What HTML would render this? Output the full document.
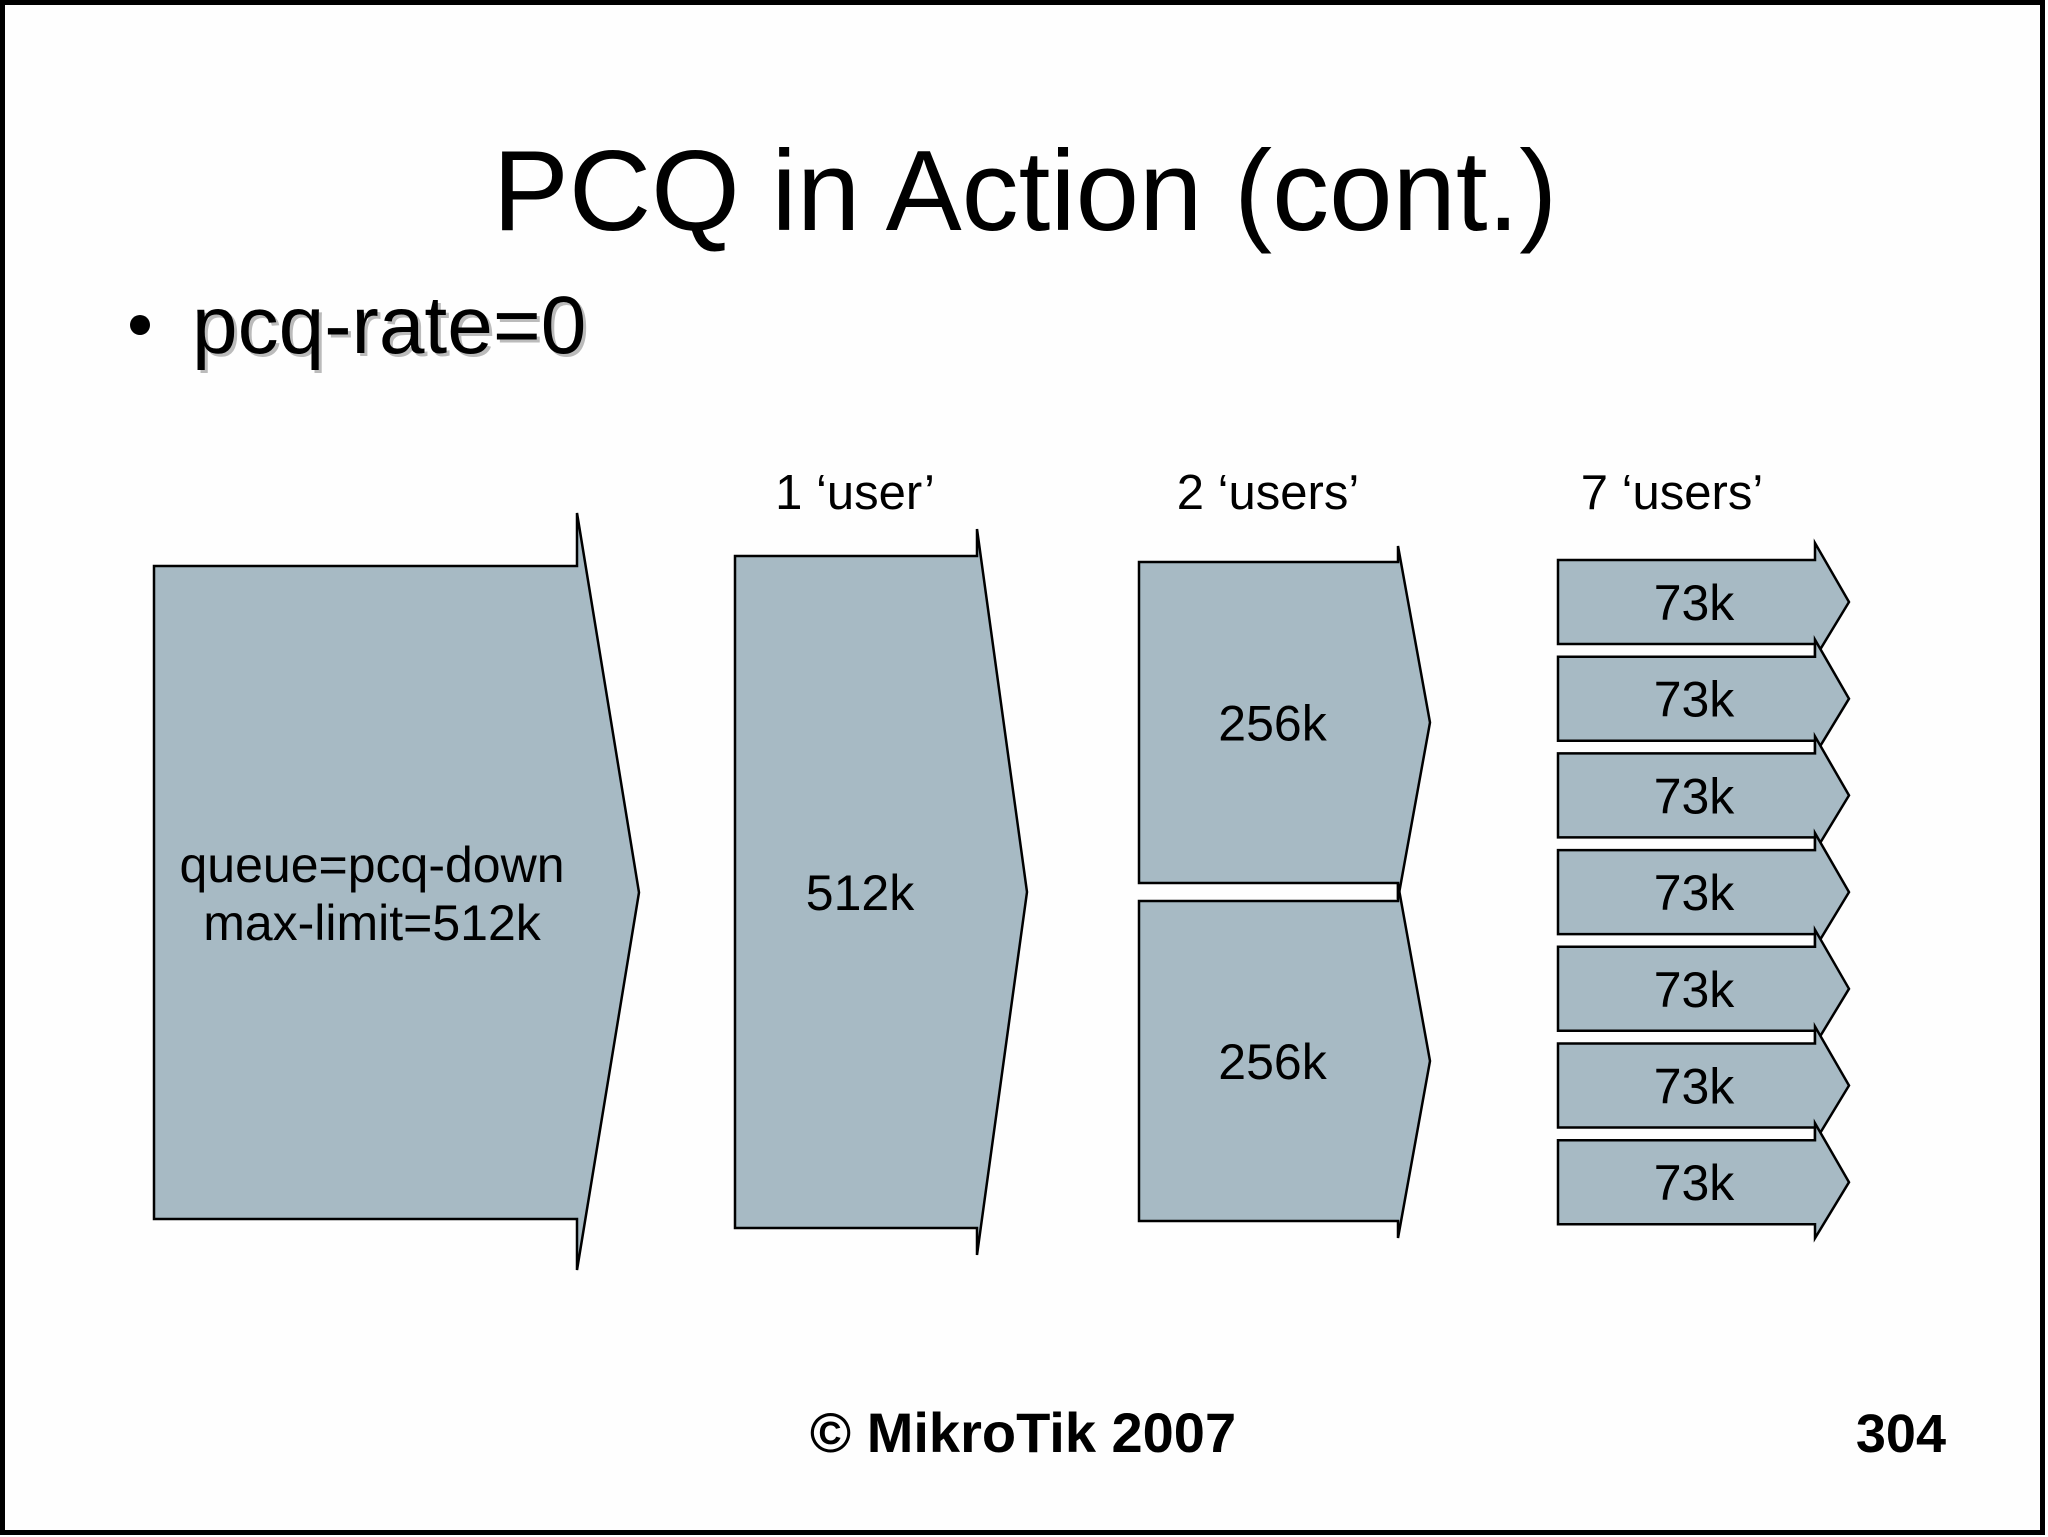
<!DOCTYPE html>
<html><head><meta charset="utf-8"><style>
html,body{margin:0;padding:0;background:#fff}
svg{display:block}
text{font-family:"Liberation Sans",Arial,sans-serif;fill:#000}
</style></head><body>
<svg id="slide" width="2048" height="1537" viewBox="0 0 2048 1537" xmlns="http://www.w3.org/2000/svg">
<rect x="2.5" y="2.5" width="2040" height="1530" fill="#fefefe" stroke="#000" stroke-width="5"/>
<text x="1025" y="230" font-size="114" text-anchor="middle">PCQ in Action (cont.)</text>
<circle cx="140" cy="325" r="10" fill="#000"/>
<text x="195" y="356" font-size="82" style="fill:#bbb">pcq-rate=0</text>
<text x="192" y="353" font-size="82">pcq-rate=0</text>
<g font-size="49" text-anchor="middle">
<text x="855" y="509">1 ‘user’</text>
<text x="1268" y="509">2 ‘users’</text>
<text x="1672" y="509">7 ‘users’</text>
</g>
<g id="arrows" fill="#a7bac4" stroke="#000" stroke-width="2.5"></g>
<g id="labels" font-size="50" text-anchor="middle"></g>
<text x="1023" y="1452" font-size="56" font-weight="bold" text-anchor="middle">© MikroTik 2007</text>
<text x="1946" y="1452" font-size="54" font-weight="bold" text-anchor="end">304</text>
</svg>
<script>
const bigArrows = [
 {name:'queue-arrow', l:154, t:566, b:1219, n:577, nt:513, nb:1270, tip:639},
 {name:'user1-arrow', l:735, t:556, b:1228, n:977, nt:529, nb:1255, tip:1027},
 {name:'user2a-arrow', l:1139, t:562, b:883, n:1398, nt:546, nb:899, tip:1430},
 {name:'user2b-arrow', l:1139, t:901, b:1221, n:1398, nt:884, nb:1238, tip:1430}
];
const bigLabels = [['512k'],['256k'],['256k']];
const smallLabels = ['73k','73k','73k','73k','73k','73k','73k'];
const NS='http://www.w3.org/2000/svg';
const ag=document.getElementById('arrows'), lg=document.getElementById('labels');
function arrow(a){
 const ty=(a.t+a.b)/2;
 const p=document.createElementNS(NS,'polygon');
 p.setAttribute('points',`${a.l},${a.t} ${a.n},${a.t} ${a.n},${a.nt} ${a.tip},${ty} ${a.n},${a.nb} ${a.n},${a.b} ${a.l},${a.b}`);
 
 
 ag.appendChild(p);
 return ty;
}
function label(x,y,s,name){
 const t=document.createElementNS(NS,'text');
 t.setAttribute('x',x);t.setAttribute('y',y);t.textContent=s;
 
 
 lg.appendChild(t);
}
bigArrows.forEach((a,i)=>{
 const ty=arrow(a);
 if(i===0){
  label(372,882,'queue=pcq-down','queue-label');
  label(372,940,'max-limit=512k','max-limit-label');
 } else {
  label((a.l+a.n)/2+4, ty+18, bigLabels[i-1][0], 'rate-label');
 }
});
smallLabels.forEach((s,i)=>{
 const t=560+i*96.7, b=t+84;
 const ty=arrow({name:'user7-arrow-'+(i+1), l:1558, t:t, b:b, n:1815, nt:t-17, nb:b+14, tip:1849});
 label(1694, ty+18, s, 'rate-label-73k');
});
</script>
</body></html>
